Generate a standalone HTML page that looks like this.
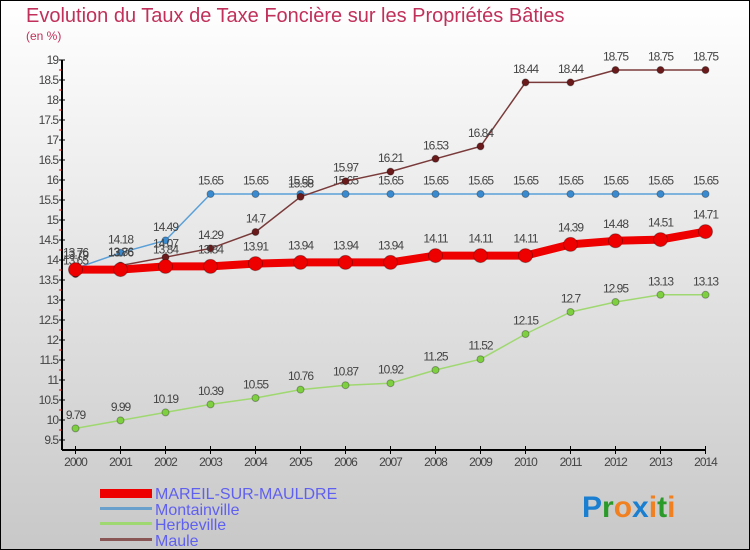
<!DOCTYPE html>
<html><head><meta charset="utf-8"><style>
body{margin:0;}
#c{position:relative;width:750px;height:550px;box-sizing:border-box;border:1px solid #000;background:linear-gradient(#ffffff,#c8c8c8);font-family:"Liberation Sans",sans-serif;overflow:hidden}
</style></head><body>
<div id="c">
<svg id="s" width="750" height="550" style="position:absolute;left:-1px;top:-1px">
<text x="26" y="22" font-size="20" fill="#c0305a">Evolution du Taux de Taxe Foncière sur les Propriétés Bâties</text>
<text x="26" y="40" font-size="12" fill="#c0305a">(en %)</text>
<g id="axes"></g><g id="series"></g>
<g>
<rect x="100" y="489" width="52" height="9" fill="#e00"/>
<text x="155" y="499" font-size="16" fill="#6060f0">MAREIL-SUR-MAULDRE</text>
<rect x="100" y="507" width="52" height="3" fill="#6aa0cc"/>
<text x="155" y="515" font-size="16" fill="#6060f0">Montainville</text>
<rect x="100" y="522" width="52" height="3" fill="#9fd870"/>
<text x="155" y="530" font-size="16" fill="#6060f0">Herbeville</text>
<rect x="100" y="538" width="52" height="3" fill="#8a5555"/>
<text x="155" y="546" font-size="16" fill="#6060f0">Maule</text>
</g>
<text x="582" y="517" font-size="30" font-weight="bold"><tspan fill="#1a7fd0">P</tspan><tspan fill="#2a9a2a">r</tspan><tspan fill="#f08020">o</tspan><tspan fill="#1a7fd0">x</tspan><tspan fill="#f08020">i</tspan><tspan fill="#2a9a2a">t</tspan><tspan fill="#f08020">i</tspan></text>
</svg></div>
<script>
const years=[2000,2001,2002,2003,2004,2005,2006,2007,2008,2009,2010,2011,2012,2013,2014];
const mareil=[13.76,13.76,13.84,13.84,13.91,13.94,13.94,13.94,14.11,14.11,14.11,14.39,14.48,14.51,14.71];
const montainville=[13.79,14.18,14.49,15.65,15.65,15.65,15.65,15.65,15.65,15.65,15.65,15.65,15.65,15.65,15.65];
const herbeville=[9.79,9.99,10.19,10.39,10.55,10.76,10.87,10.92,11.25,11.52,12.15,12.7,12.95,13.13,13.13];
const maule=[13.65,13.86,14.07,14.29,14.7,15.58,15.97,16.21,16.53,16.84,18.44,18.44,18.75,18.75,18.75];
const yTicks=[9.5,10,10.5,11,11.5,12,12.5,13,13.5,14,14.5,15,15.5,16,16.5,17,17.5,18,18.5,19];
const NS="http://www.w3.org/2000/svg";
const x=i=>75.5+i*(705.5-75.5)/(years.length-1);
const y=v=>440-(v-9.5)*40;
function mk(t,a,p){const e=document.createElementNS(NS,t);for(const k in a)e.setAttribute(k,a[k]);p.appendChild(e);return e;}
const ax=document.getElementById('axes');
let e=mk('line',{x1:62,y1:y(19),x2:62,y2:450,stroke:'#000','stroke-width':2},ax);

e=mk('line',{x1:62,y1:450,x2:706,y2:450,stroke:'#000','stroke-width':2},ax);

yTicks.forEach(v=>{
 mk('line',{x1:59,y1:y(v),x2:65,y2:y(v),stroke:'#000'},ax);
 if(v<19) mk('line',{x1:59,y1:y(v+0.25),x2:62,y2:y(v+0.25),stroke:'#e00'},ax);
 e=mk('text',{x:58,y:y(v)+4,'font-size':12,fill:'#444','text-anchor':'end','letter-spacing':'-1'},ax);
 e.textContent=v;
});
years.forEach((yr,i)=>{
 mk('line',{x1:x(i),y1:446,x2:x(i),y2:454,stroke:'#000'},ax);
 e=mk('text',{x:x(i),y:466,'font-size':12,fill:'#444','text-anchor':'middle','letter-spacing':'-1'},ax);
 e.textContent=yr;
});
const sg=document.getElementById('series');
function draw(name,data,color,w,r,fill){
 const g=mk('g',{},sg);
 
 
 const l=mk('polyline',{points:data.map((v,i)=>x(i)+','+y(v)).join(' '),fill:'none',stroke:color,'stroke-width':w,'stroke-linejoin':'round'},g);
 
 
 data.forEach((v,i)=>{
  const c=mk('circle',{cx:x(i),cy:y(v),r:r,fill:fill,stroke:'rgba(0,0,0,0.3)'},g);
  
  
  const t=mk('text',{x:x(i),y:y(v)-(r+6),'font-size':12,fill:'#444','text-anchor':'middle','letter-spacing':'-1'},g);
  t.textContent=v;
  
  
 });
}
draw('herbeville',herbeville,'#9fd870',1.5,3.5,'#7ed040');
draw('montainville',montainville,'#5aa0d8',1.5,3.5,'#3a8ad0');
draw('maule',maule,'#7a3a3a',1.5,3.5,'#6a1a1a');
draw('mareil',mareil,'#ee0000',8,7,'#ee0000');
</script>
</body></html>
